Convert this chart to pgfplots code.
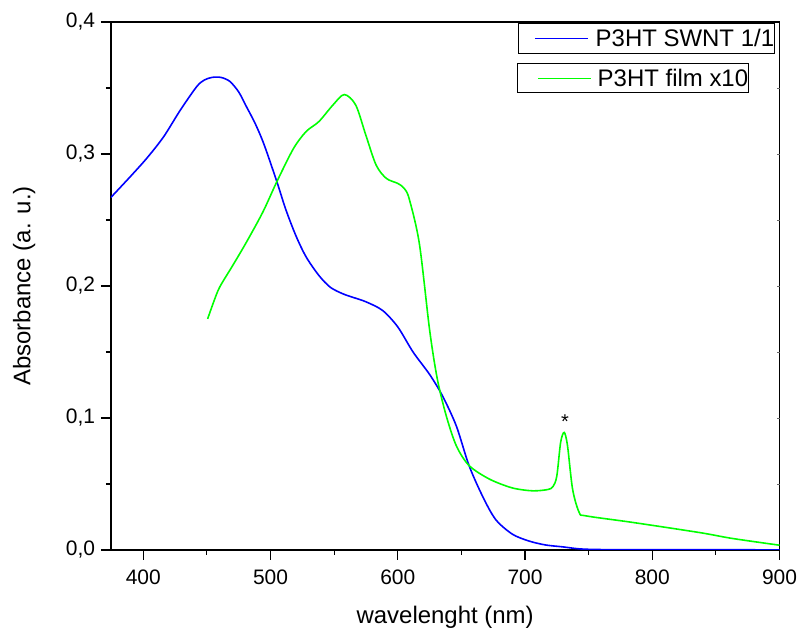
\documentclass[border=0pt]{standalone}
\usepackage{pgfplots}
\pgfplotsset{compat=1.18}
\usepackage{fontspec}
\setmainfont{Liberation Sans}
\begin{document}
\begin{tikzpicture}
\begin{axis}[
  scale only axis,
  width=670pt, height=529pt,
  xmin=374.5, xmax=900, ymin=0, ymax=0.4,
  xtick={400,500,600,700,800,900},
  ytick={0,0.1,0.2,0.3,0.4},
  minor x tick num=1, minor y tick num=1,
  xtick pos=bottom, ytick pos=left,
  xtick align=outside, ytick align=outside,
  tickwidth=10pt, subtickwidth=5pt,
  major tick style={black, line width=1.3pt},
  minor tick style={black, line width=1.1pt},
  axis line style={line width=1.5pt},
  /pgf/number format/assume math mode=true,
  /pgf/number format/use comma,
  /pgf/number format/1000 sep={},
  yticklabel={\pgfmathprintnumber[fixed,fixed zerofill,precision=1]{\tick}},
  ticklabel style={font=\fontsize{21}{24}\selectfont},
  xticklabel style={inner xsep=0pt, inner ysep=10pt},
  yticklabel style={inner xsep=5.5pt, inner ysep=0pt},
  xlabel={wavelenght (nm)}, ylabel={Absorbance (a. u.)},
  label style={font=\fontsize{24}{27}\selectfont, inner sep=0pt},
  xlabel style={at={(rel axis cs:0.5,0)}, anchor=base, yshift=-73.5pt},
  ylabel style={at={(rel axis cs:0,0.5)}, anchor=base, yshift=80.5pt},
  clip mode=individual,
]
\addplot[blue, line width=1.6pt, smooth] coordinates {
(374.5,0.267) (390,0.283) (403,0.297) (416,0.313) (429,0.333) (442,0.351)
(448,0.356) (454,0.358) (461,0.358) (468,0.355) (475,0.347) (481,0.336)
(488,0.323) (495,0.307) (505,0.279) (512,0.258) (520,0.238) (528,0.222)
(538,0.208) (547,0.199) (557,0.194) (566,0.191) (575,0.188) (588,0.1815) (600,0.169) (612,0.150)
(625,0.133) (635,0.117) (646,0.094) (656,0.064) (667,0.040) (677,0.023)
(690,0.012) (703,0.0068) (716,0.0038) (730,0.0023) (743,0.0008) (760,0.0003)
(800,0.0002) (900,0.0001)
};
\addplot[green, line width=1.6pt, smooth] coordinates {
(450.6,0.175) (455,0.187) (460,0.199) (470,0.215) (481,0.233) (494,0.256)
(505,0.279) (518,0.304) (528,0.317) (538,0.3245) (549,0.337) (558,0.345)
(567,0.337) (575,0.314) (583,0.2916) (591,0.2815) (600,0.2777) (605,0.274)
(609,0.266) (617,0.232) (625,0.167) (631,0.130) (638,0.102) (646,0.079)
(656,0.064) (672,0.0537) (690,0.047) (706,0.0448) (718,0.0458) (722,0.048)
(725,0.056) (728,0.0815) (730.8,0.089) (733.4,0.079) (737.4,0.046) (742.6,0.0284)
(748,0.0258) (785,0.0208) (837,0.0132) (863,0.0087) (900,0.0036)
};
\node[font=\fontsize{20}{22}\selectfont] at (axis cs:731.5,0.0975) {*};
\node[draw, line width=0.8pt, anchor=north east, inner xsep=0pt, inner ysep=6pt,
  font=\fontsize{24}{27}\selectfont] at (rel axis cs:0.9925,0.998)
  {\hspace{16pt}\textcolor{blue}{\rule[0.32em]{53pt}{1.3pt}}\hspace{8pt}P3HT SWNT 1/1\hspace{6pt}};
\node[draw, line width=0.8pt, anchor=north east, inner xsep=0pt, inner ysep=6pt,
  font=\fontsize{24}{27}\selectfont] at (rel axis cs:0.9537,0.9225)
  {\hspace{20pt}\textcolor{green}{\rule[0.32em]{53pt}{1.3pt}}\hspace{7pt}P3HT film x10\hspace{5pt}};
\coordinate (ll) at (rel axis cs:0,0);
\coordinate (lr) at (rel axis cs:1,0);
\end{axis}
% ticks in canvas units (axis 670pt x 529pt)
\foreach \xx in {32.51,160.01,287.51,415.01,542.51,670}
  \draw[black, line width=1.3pt] ([xshift=\xx pt]ll) -- ++(0,-10pt);
\foreach \xx in {96.26,223.76,351.26,478.76,606.26}
  \draw[black, line width=1.1pt] ([xshift=\xx pt]ll) -- ++(0,-5pt);
\foreach \yy in {0,132.25,264.5,396.75,529}
  \draw[black, line width=1.3pt] ([yshift=\yy pt]ll) -- ++(-10pt,0);
\foreach \yy in {66.125,198.375,330.625,462.875}
  \draw[black, line width=1.1pt] ([yshift=\yy pt]ll) -- ++(-5pt,0);
\foreach \yy in {66.125,132.25,198.375,264.5,330.625,396.75,462.875}
  \draw[black!60, line width=0.5pt] ([yshift=\yy pt]lr) -- ++(-3pt,0);
% page extent
\path ([shift={(-111pt,551pt)}]ll) rectangle ++(1pt,-1pt);
\path ([shift={(16pt,-79pt)}]lr) rectangle ++(-1pt,1pt);
\end{tikzpicture}
\end{document}
